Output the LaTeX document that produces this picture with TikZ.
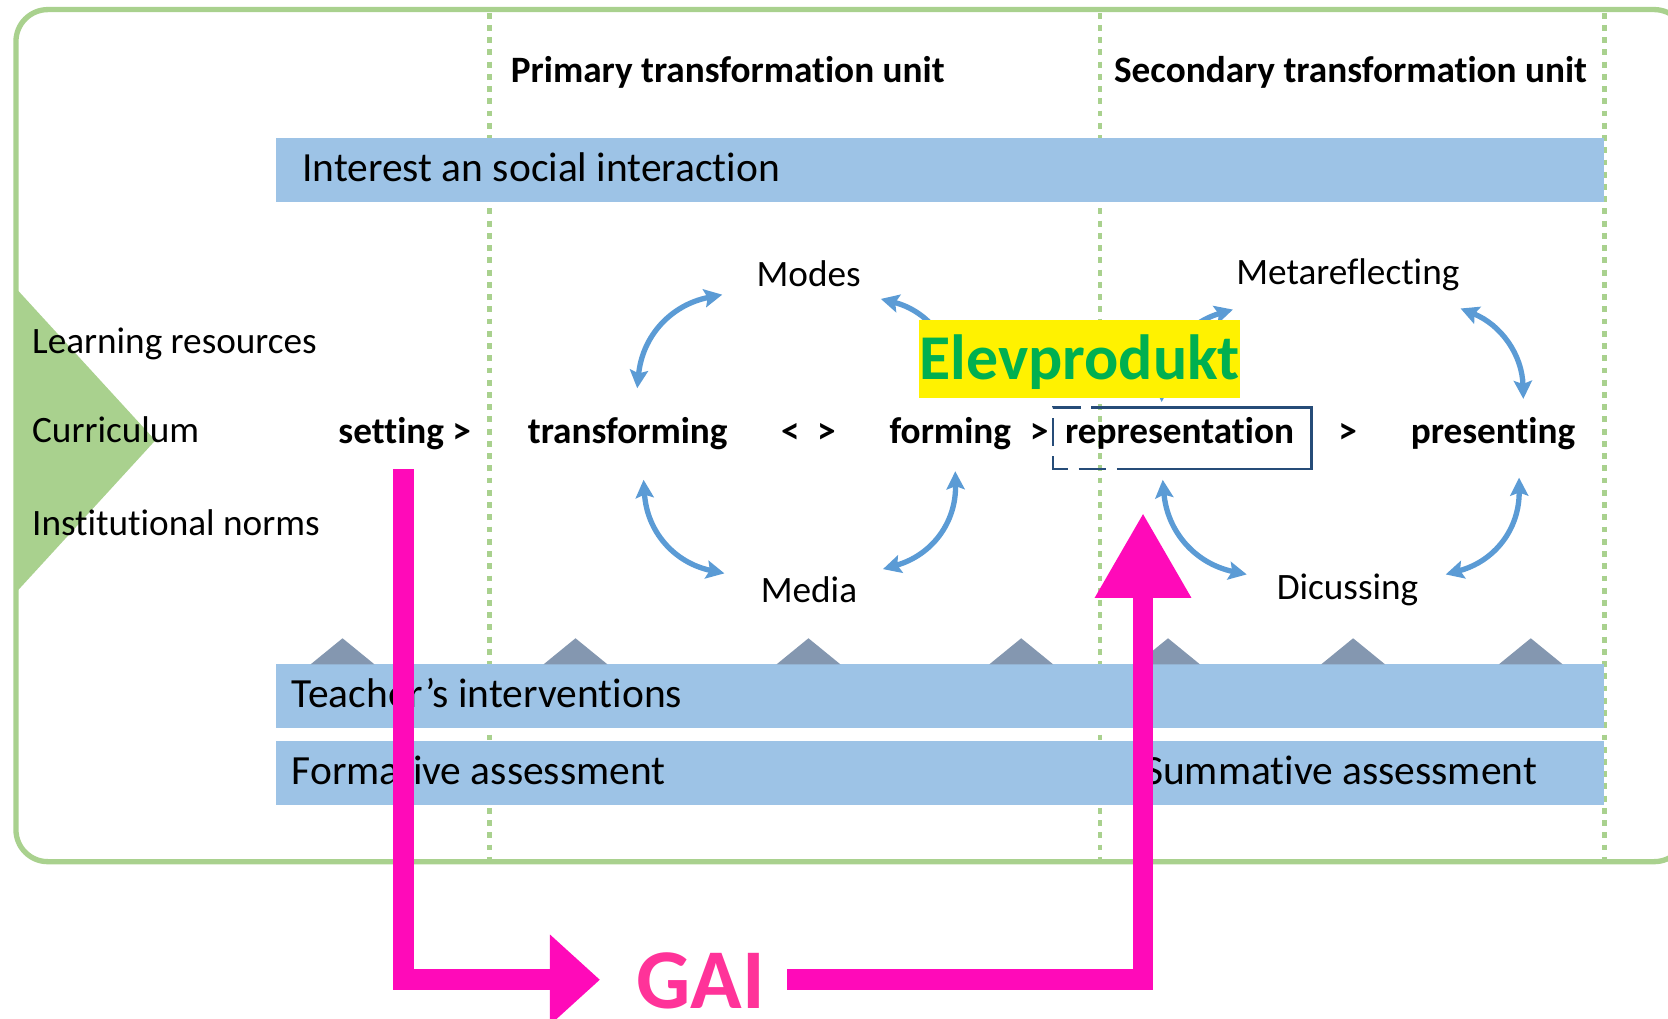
\documentclass[tikz,border=0pt]{standalone}
\usepackage{fontspec}
\setmainfont{Carlito}[Ligatures=NoCommon]
\usetikzlibrary{arrows.meta}
\definecolor{frameGreen}{RGB}{169,209,142}
\definecolor{bandBlue}{RGB}{157,195,230}
\definecolor{bumpGray}{RGB}{132,151,176}
\definecolor{arrBlue}{RGB}{91,155,213}
\definecolor{repBlue}{RGB}{38,76,120}
\definecolor{gaiMag}{RGB}{255,10,185}
\definecolor{gaiText}{RGB}{255,51,153}
\definecolor{elevGreen}{RGB}{0,176,80}
\begin{document}
\begin{tikzpicture}[x=1pt,y=-1pt,
  lbl/.style={inner sep=0pt, anchor=base west, font=\fontsize{35}{42}\selectfont},
  bandtxt/.style={inner sep=0pt, anchor=base west, font=\fontsize{39}{47}\selectfont},
  boldlbl/.style={inner sep=0pt, anchor=base west, font=\fontsize{35}{42}\selectfont\bfseries},
  cyc/.style={arrBlue, line width=5pt, {Stealth[length=17pt,width=17pt,inset=3pt]}-{Stealth[length=17pt,width=17pt,inset=3pt]}},
  unitline/.style={frameGreen, line width=4.5pt, dash pattern=on 5.5pt off 6pt},
  band/.style={fill=bandBlue},
  gaiarrow/.style={gaiMag, line width=19.5pt}
]
\useasboundingbox (0,0) rectangle (1568,957);
\clip (0,0) rectangle (1568,957);

% left green triangle and frame
\fill[frameGreen] (15,271) -- (146,414) -- (15,557) -- cycle;
\draw[frameGreen, line width=5pt, rounded corners=30pt] (15,9) rectangle (1585,810);

% dotted unit separators
\draw[unitline] (460.5,12) -- (460.5,808);
\draw[unitline] (1034,12) -- (1034,808);
\draw[unitline] (1508,12) -- (1508,808);

% bands
\fill[band] (259,130) rectangle (1508,190);
\fill[band] (259,624) rectangle (1508,684);
\fill[band] (259,697) rectangle (1508,757);

% bumps on teacher band
\foreach \cx in {322,541,760,960,1098,1272,1439}
  \fill[bumpGray] (\cx-30,624.5) -- (\cx,600) -- (\cx+30,624.5) -- cycle;

% headers
\node[boldlbl] (primary) at (480,78) {Primary transformation unit};
\node[boldlbl] (secondary) at (1047,78) {Secondary transformation unit};

% band texts
\node[bandtxt] (interest) at (284,171) {Interest an social interaction};
\node[bandtxt] (teacher) at (274,665.5) {Teacher’s interventions};
\node[bandtxt] (formative) at (274,737) {Formative assessment};
\node[bandtxt, anchor=base east] (summative) at (1445,737) {Summative assessment};

% left labels
\node[lbl] (learning) at (30,332) {Learning resources};
\node[lbl] (curriculum) at (30,416) {Curriculum};
\node[lbl] (norms) at (30,503) {Institutional norms};

% cycle labels
\node[lbl] (modes) at (711,269) {Modes};
\node[lbl] (media) at (715,566) {Media};
\node[lbl] (meta) at (1162,267) {Metareflecting};
\node[lbl] (dicussing) at (1200,564) {Dicussing};

% process row
\node[boldlbl] (setting) at (318,417) {setting >};
\node[boldlbl] (transforming) at (496,417) {transforming};
\node[boldlbl] (lt) at (734,417) {<};
\node[boldlbl] (gt) at (768,417) {>};
\node[boldlbl] (forming) at (836,417) {forming};
\node[boldlbl] (gtb) at (968,417) {>};
\node[boldlbl] (representation) at (1001,417) {representation};
\node[boldlbl] (gtc) at (1258,417) {>};
\node[boldlbl] (presenting) at (1326,417) {presenting};

% cycle arrows
\coordinate (a1s) at (599,365); \coordinate (a1e) at (679,277);
\draw[cyc] (a1s) .. controls (603.9,315.9) and (630.6,286.6) .. (a1e);
\coordinate (a2s) at (828,281); \coordinate (a2e) at (896,365);
\draw[cyc] (a2s) .. controls (871.4,292.2) and (894.1,320.2) .. (a2e);
\coordinate (a3s) at (605,451); \coordinate (a3e) at (681,539);
\draw[cyc] (a3s) .. controls (608.1,499.5) and (633.5,528.9) .. (a3e);
\coordinate (a4s) at (898,443); \coordinate (a4e) at (830,535);
\draw[cyc] (a4s) .. controls (898.9,491.1) and (876.3,521.7) .. (a4e);
\coordinate (a5s) at (1092,378); \coordinate (a5e) at (1159,291);
\draw[cyc] (a5s) .. controls (1093.2,332.7) and (1115.5,303.7) .. (a5e);
\coordinate (a6s) at (1373,290); \coordinate (a6e) at (1432,375);
\draw[cyc] (a6s) .. controls (1411.3,305.4) and (1430.9,333.7) .. (a6e);
\coordinate (a7s) at (1093,451); \coordinate (a7e) at (1172,540);
\draw[cyc] (a7s) .. controls (1097.4,500.1) and (1123.7,529.8) .. (a7e);
\coordinate (a8s) at (1428,449); \coordinate (a8e) at (1359,540);
\draw[cyc] (a8s) .. controls (1428.4,497.1) and (1405.4,527.4) .. (a8e);

% representation box
\draw[repBlue, line width=2.5pt] (1052,383) -- (1233,383) -- (1233,441) -- (1052,441);
\draw[repBlue, line width=2.5pt, dash pattern=on 26pt off 10pt] (1052,383) -- (990,383) -- (990,441) -- (1052,441);

% Elevprodukt
\node[fill=yellow, minimum width=302pt, minimum height=73pt, inner sep=0pt,
      text height=38.6pt, text depth=0pt, text=elevGreen,
      font=\fontsize{60}{72}\selectfont\bfseries] (elev) at (1015,337.5) {Elevprodukt};

% GAI arrows
\coordinate (gaiA) at (379,441);
\coordinate (gaiB) at (564,921);
\draw[gaiarrow, -{Triangle[length=47pt,width=82pt]}] (gaiA) |- (gaiB);
\node[inner sep=0pt, anchor=base west, text depth=0pt, text=gaiText, font=\fontsize{80}{96}\selectfont\bfseries] (gai) at (598,948) {GAI};
\coordinate (gaiC) at (740,921);
\coordinate (gaiD) at (1074.5,482);
\draw[gaiarrow, -{Triangle[length=80pt,width=85pt]}] (gaiC) -| (gaiD);
\end{tikzpicture}
\end{document}
